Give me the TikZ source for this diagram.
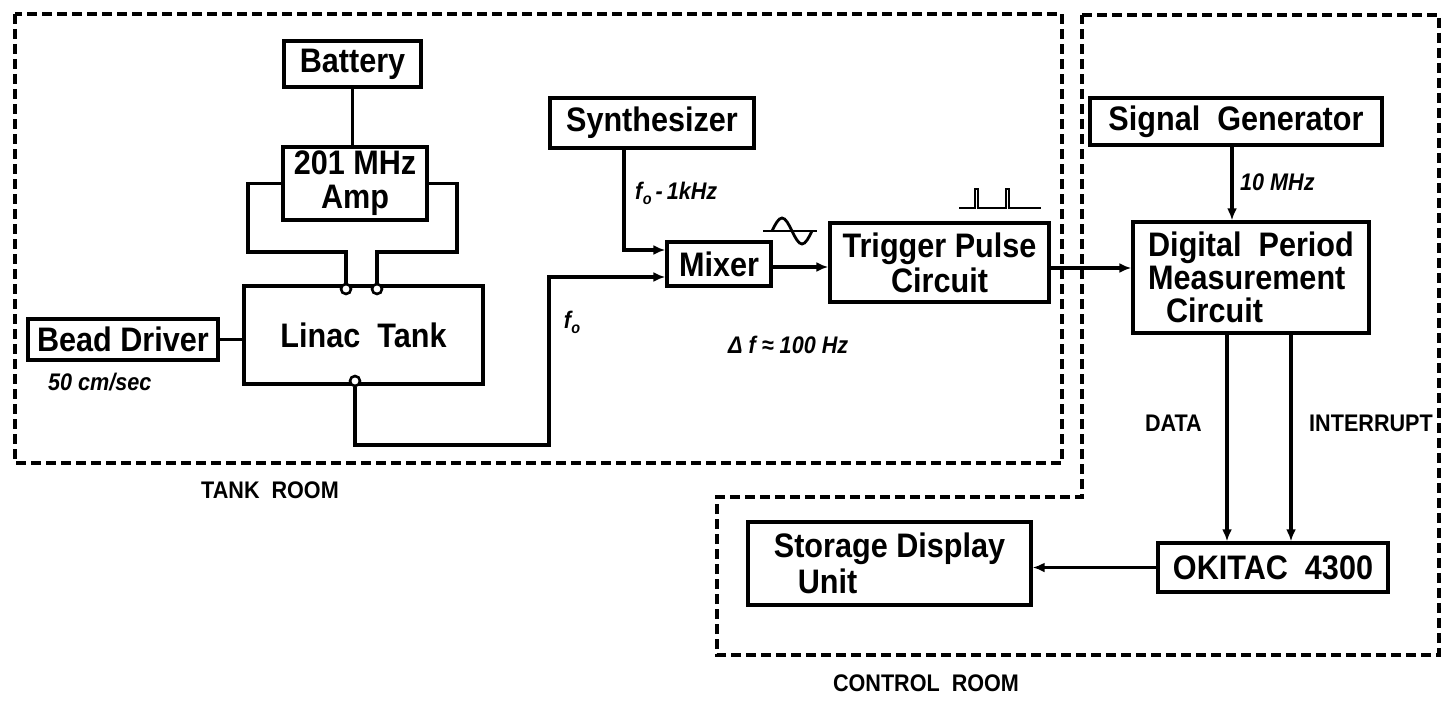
\documentclass[tikz,border=0pt]{standalone}
\usepackage{fontspec}
\setmainfont[FakeStretch=0.9]{Liberation Sans}
\usetikzlibrary{arrows.meta,calc}
\newcommand{\fsub}{f\kern0.5pt\raisebox{-5pt}{\fontsize{16}{16}\selectfont o}}
\begin{document}
\begin{tikzpicture}[x=1pt,y=-1pt,
  box/.style={draw, line width=3.4pt, rectangle, inner sep=0pt, font=\fontsize{34}{35}\selectfont\bfseries, align=center},
  wire/.style={line width=3.4pt},
  arr/.style={line width=3.2pt, -{Latex[length=12pt,width=10pt]}},
  room/.style={line width=3.2pt, dash pattern=on 10pt off 5pt},
  lab/.style={font=\fontsize{24}{25}\selectfont\bfseries\itshape, inner sep=0pt},
  caplab/.style={font=\fontsize{24}{25}\selectfont\bfseries, inner sep=0pt},
  port/.style={circle, draw, fill=white, line width=2.6pt, minimum size=10pt, inner sep=0pt}]
\useasboundingbox (0,0) rectangle (1446,701);

% rooms
\draw[room] (15,14) rectangle (1062,463);
\draw[room] (1082,15) -- (1439,15) -- (1439,655) -- (717,655) -- (717,497) -- (1082,497) -- cycle;

% boxes
\node[box, minimum width=137pt, minimum height=46pt] (bat) at (352.5,64) {Battery};
\node[box, minimum width=144pt, minimum height=73pt] (amp) at (355,183.5) {201 MHz\\[-1pt]Amp};
\node[box, minimum width=239pt, minimum height=98pt] (tank) at (363.5,335) {Linac\enspace Tank};
\node[box, minimum width=190pt, minimum height=41pt] (bead) at (123,339.5) {Bead Driver};
\node[box, minimum width=204pt, minimum height=50pt] (syn) at (652,123) {Synthesizer};
\node[box, minimum width=104pt, minimum height=44pt] (mix) at (719,264) {Mixer};
\node[box, minimum width=219pt, minimum height=79pt] (trig) at (939.5,262.5) {Trigger Pulse\\Circuit};
\node[box, minimum width=292pt, minimum height=47pt] (sg) at (1236,121.5) {Signal\enspace Generator};
\node[box, minimum width=236pt, minimum height=111pt, align=left] (dpm) at (1251,277.5) {Digital\enspace Period\\[-2pt]Measurement\\[-2pt]\hspace*{18pt}Circuit};
\node[box, minimum width=230pt, minimum height=49pt] (oki) at (1273,567.5) {OKITAC\enspace 4300};
\node[box, minimum width=283pt, minimum height=83pt, align=left] (sdu) at (889.5,563.5) {Storage Display\\[1pt]\hspace*{24pt}Unit};

% wires
\draw[wire] (bat.south) -- (bat.south |- amp.north);
\draw[wire] (amp.west) -- (248,183.5) -- (248,252) -- (346,252) -- (346,284.5);
\draw[wire] (amp.east) -- (457,183.5) -- (457,252) -- (377,252) -- (377,284.5);
\draw[wire] (bead.east) -- (bead.east -| tank.west);
\node[port] (p1) at (346,289) {};
\node[port] (p2) at (377,289) {};
\node[port] (p3) at (355,381) {};
\draw[arr] (p3.south) -- (355,445) -- (549,445) -- (549,277) -- (mix.west |- 0,277);
\draw[arr] (syn.south -| 624,0) -- (624,250) -- (mix.west |- 0,250);
\draw[arr] (mix.east |- 0,267) -- (trig.west |- 0,267);
\draw[arr] (trig.east |- 0,268) -- (dpm.west |- 0,268);
\draw[arr] (sg.south -| 1232,0) -- (dpm.north -| 1232,0);
\draw[arr] (dpm.south -| 1227,0) -- (oki.north -| 1227,0);
\draw[arr] (dpm.south -| 1291,0) -- (oki.north -| 1291,0);
\draw[arr] (oki.west) -- (oki.west -| sdu.east);

% signal symbols
\draw[line width=2.8pt] (763,231) -- (817,231);
\draw[line width=2.8pt] (772,231) sin (782,218) cos (792,231) sin (802,244) cos (812,231);
\draw[line width=2.6pt] (959,208) -- (975,208) -- (975,189) -- (978,189) -- (978,208) -- (1006,208) -- (1006,189) -- (1009,189) -- (1009,208) -- (1041,208);

% labels
\node[lab, anchor=west] (l50) at (48,382) {50 cm/sec};
\node[lab, anchor=west] (lfo1) at (635,193) {\fsub\,-\,1kHz};
\node[lab] (lfo) at (572,322) {\fsub};
\node[lab, anchor=west] (ldf) at (728,345) {Δ f ≈ 100 Hz};
\node[lab, anchor=west] (l10) at (1240,182) {10 MHz};
\node[caplab, anchor=east] (ldata) at (1202,423) {DATA};
\node[caplab, anchor=west] (lint) at (1309,423) {INTERRUPT};
\node[caplab] (ltank) at (270,490) {TANK\enspace ROOM};
\node[caplab] (lctrl) at (926,683) {CONTROL\enspace ROOM};
\end{tikzpicture}
\end{document}
